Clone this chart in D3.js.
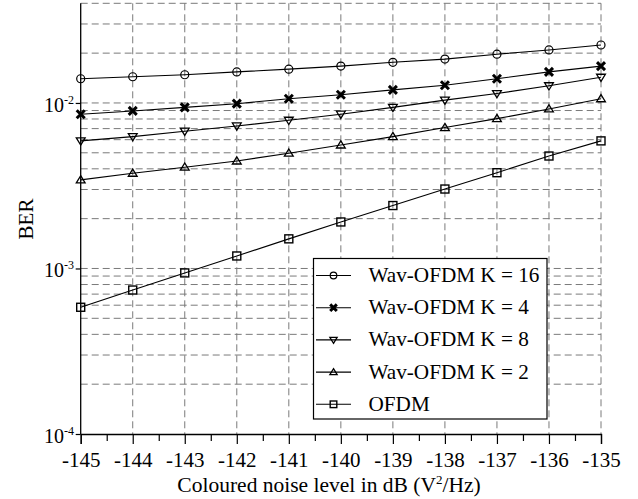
<!DOCTYPE html>
<html>
<head>
<meta charset="utf-8">
<script src="https://cdn.jsdelivr.net/npm/d3@7"></script>
<style>
  html, body { margin: 0; padding: 0; background: #fff; }
  svg { display: block; }
</style>
</head>
<body>
<div id="chart"></div>
<script>
// BER vs coloured noise level, log-scale y.

const noiseLevels = [-145, -144, -143, -142, -141, -140, -139, -138, -137, -136, -135];

const berK16 = [0.0140, 0.0144, 0.0148, 0.0154, 0.0160, 0.0167, 0.0176, 0.0184, 0.0197, 0.0209, 0.0224];
const berK4  = [0.00855, 0.00895, 0.0094, 0.0099, 0.0106, 0.0112, 0.0120, 0.0128, 0.0140, 0.0154, 0.0167];
const berK8  = [0.0059, 0.00626, 0.00675, 0.00726, 0.00786, 0.00855, 0.0094, 0.0104, 0.0114, 0.0127, 0.0143];
const berK2  = [0.00343, 0.00376, 0.00409, 0.00446, 0.00497, 0.00557, 0.00626, 0.0071, 0.00804, 0.0092, 0.0106];
const berOFDM = [0.000583, 0.000741, 0.00094, 0.00119, 0.00151, 0.00191, 0.0024, 0.00302, 0.00379, 0.00478, 0.0059];

const seriesNames   = ["Wav-OFDM K = 16", "Wav-OFDM K = 4", "Wav-OFDM K = 8", "Wav-OFDM K = 2", "OFDM"];
const seriesMarkers = ["circle", "cross", "triDown", "triUp", "square"];
const seriesValues  = [berK16, berK4, berK8, berK2, berOFDM];

const yMajorTicks = [1e-4, 1e-3, 1e-2];
const yMajorExps  = ["-4", "-3", "-2"];

const W = 638, H = 499;
const M = { left: 80.7, right: 601, top: 3.3, bottom: 434 };
const FONT = "Liberation Serif, Times New Roman, serif";

const x = d3.scaleLinear().domain([-145, -135]).range([M.left, M.right]);
const y = d3.scaleLog().domain([1e-4, 0.04]).range([M.bottom, M.top]);

const svg = d3.select("#chart").append("svg")
  .attr("width", W).attr("height", H)
  .style("font-family", FONT);

// Grid: every integer on x, every 1..9 × decade on y.
const yGrid = [];
for (const d of [1e-4, 1e-3, 1e-2]) {
  for (let k = 1; k <= 9; k++) {
    const v = +(k * d).toPrecision(3);
    if (v > 1e-4 && v <= 0.04 + 1e-9) yGrid.push(v);
  }
}
const gGrid = svg.append("g").attr("class", "grid")
  .attr("stroke", "#7a7a7a").attr("stroke-width", 1).attr("stroke-dasharray", "7,4");
gGrid.selectAll("line.h").data(yGrid).join("line")
  .attr("class", "h")
  .attr("x1", M.left).attr("x2", M.right)
  .attr("y1", d => y(d)).attr("y2", d => y(d));
gGrid.selectAll("line.v").data(noiseLevels.slice(1)).join("line")
  .attr("class", "v")
  .attr("x1", d => x(d)).attr("x2", d => x(d))
  .attr("y1", M.top).attr("y2", M.bottom);

// Series lines + markers
const line = d3.line().x((d, i) => x(noiseLevels[i])).y(d => y(d));

function drawMarker(g, kind, cx, cy, s) {
  if (kind === "circle") {
    g.append("circle").attr("cx", cx).attr("cy", cy).attr("r", s)
      .attr("fill", "none").attr("stroke", "#000").attr("stroke-width", 1.2);
  } else if (kind === "square") {
    g.append("rect").attr("x", cx - s).attr("y", cy - s).attr("width", 2 * s).attr("height", 2 * s)
      .attr("fill", "none").attr("stroke", "#000").attr("stroke-width", 1.4);
  } else if (kind === "triUp") {
    g.append("path")
      .attr("d", `M${cx},${cy - s * 1.05}L${cx + s * 1.1},${cy + s * 0.75}L${cx - s * 1.1},${cy + s * 0.75}Z`)
      .attr("fill", "none").attr("stroke", "#000").attr("stroke-width", 1.3);
  } else if (kind === "triDown") {
    g.append("path")
      .attr("d", `M${cx},${cy + s * 1.05}L${cx + s * 1.1},${cy - s * 0.75}L${cx - s * 1.1},${cy - s * 0.75}Z`)
      .attr("fill", "none").attr("stroke", "#000").attr("stroke-width", 1.3);
  } else if (kind === "cross") {
    g.append("path")
      .attr("d", `M${cx - s},${cy - s}L${cx + s},${cy + s}M${cx - s},${cy + s}L${cx + s},${cy - s}`)
      .attr("stroke", "#000").attr("stroke-width", 3);
  }
}

const gSeries = svg.append("g").attr("class", "series");
seriesValues.forEach((vals, si) => {
  const g = gSeries.append("g");
  g.append("path").attr("d", line(vals))
    .attr("fill", "none").attr("stroke", "#000").attr("stroke-width", 1.1);
  vals.forEach((v, i) => drawMarker(g, seriesMarkers[si], x(noiseLevels[i]), y(v), 4));
});

// X axis: major ticks each dB, minor ticks at half dB
const xAxis = d3.axisBottom(x).tickValues(noiseLevels).tickSize(10).tickPadding(8)
  .tickFormat(d3.format("d"));
const gx = svg.append("g").attr("transform", `translate(0,${M.bottom})`).call(xAxis)
  .attr("font-family", null).attr("font-size", null);
gx.select(".domain").attr("stroke-width", 1.3);
gx.selectAll(".tick line").attr("stroke-width", 1.2);
gx.selectAll(".tick text").style("font-family", FONT).attr("font-size", 21).attr("fill", "#000")
  .text(d => String(d));

const minorX = d3.range(-144.5, -135, 1);
svg.append("g").attr("transform", `translate(0,${M.bottom})`)
  .call(d3.axisBottom(x).tickValues(minorX).tickSize(7).tickFormat(""))
  .call(g => g.select(".domain").remove())
  .selectAll(".tick line").attr("stroke-width", 1.2);

// Y axis: solid left line, short outward major ticks
const gy = svg.append("g").attr("transform", `translate(${M.left},0)`)
  .call(d3.axisLeft(y).tickValues(yMajorTicks).tickSize(5).tickFormat(""));
gy.select(".domain").attr("stroke-width", 1.3).attr("d", `M0,${M.top}V${M.bottom}`);
gy.selectAll(".tick line").attr("stroke-width", 1.2);

const yLabels = svg.append("g").attr("font-size", 20);
yMajorTicks.forEach((v, i) => {
  const t = yLabels.append("text")
    .attr("x", 74).attr("y", y(v) + 9).attr("text-anchor", "end");
  t.append("tspan").text("10");
  t.append("tspan").attr("font-size", 12).attr("dy", -8).text(yMajorExps[i]);
});

// Axis titles
const xt = svg.append("text").attr("x", 329).attr("y", 492).attr("text-anchor", "middle")
  .attr("font-size", 21.5);
xt.append("tspan").text("Coloured noise level in dB (V");
xt.append("tspan").attr("font-size", 13).attr("dy", -8).text("2");
xt.append("tspan").attr("dy", 8).text("/Hz)");

svg.append("text").attr("transform", "translate(33,219) rotate(-90)")
  .attr("text-anchor", "middle").attr("font-size", 21).text("BER");

// Legend
const lg = svg.append("g").attr("class", "legend").style("font-family", FONT);
lg.append("rect").attr("x", 313.5).attr("y", 258.5).attr("width", 233.5).attr("height", 160.5)
  .attr("fill", "#fff").attr("stroke", "#000").attr("stroke-width", 1.2);
seriesNames.forEach((name, i) => {
  const cy = 275.5 + i * 32.2;
  const g = lg.append("g");
  g.append("line").attr("x1", 316).attr("x2", 351).attr("y1", cy).attr("y2", cy)
    .attr("stroke", "#000").attr("stroke-width", 1.1);
  drawMarker(g, seriesMarkers[i], 333.5, cy, 3.3);
  g.append("text").attr("x", 368.5).attr("y", cy + 6.5).attr("font-size", 21.2).text(name);
});
</script>
</body>
</html>
